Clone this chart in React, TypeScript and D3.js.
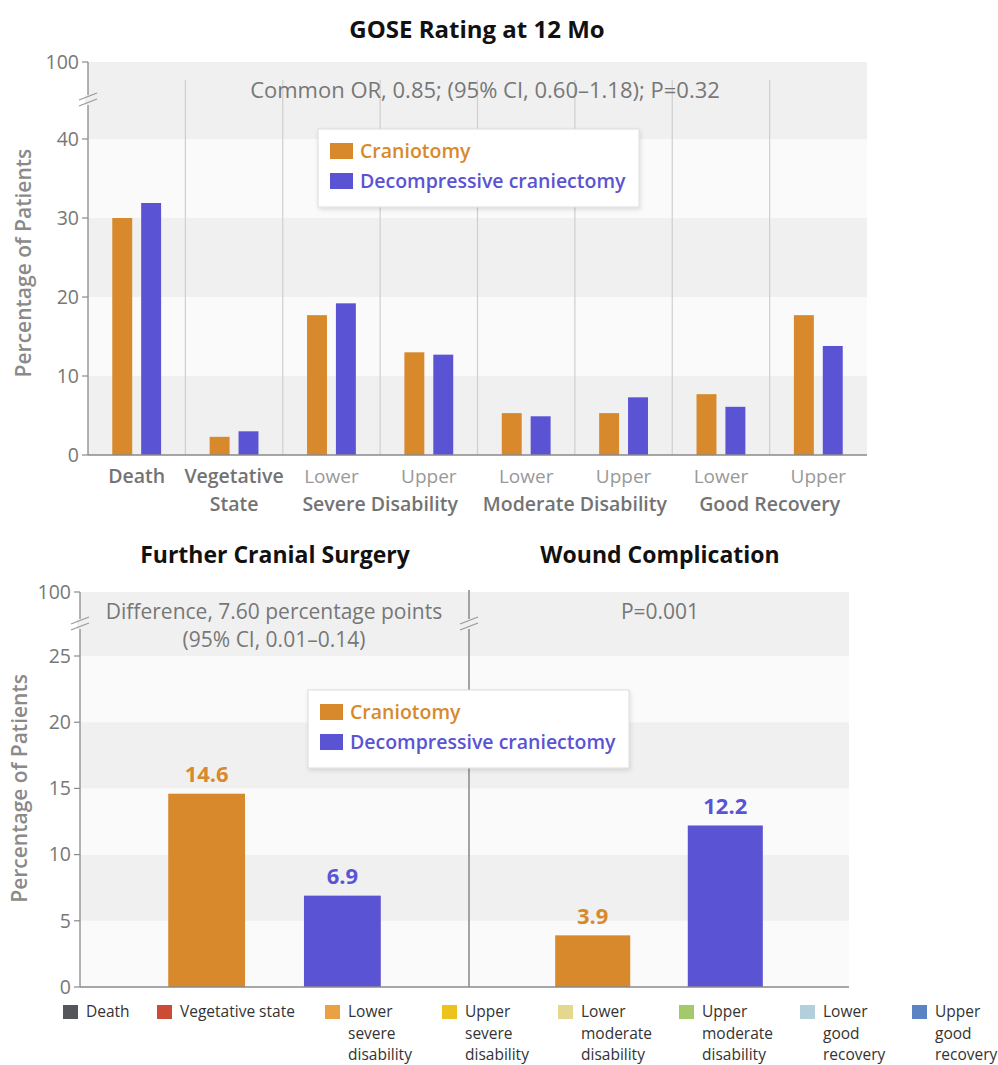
import * as d3 from 'd3';

// GOSE outcome categories and values (percent of patients)
const goseCategories = [
  'Death',
  'Vegetative State',
  'Lower Severe Disability',
  'Upper Severe Disability',
  'Lower Moderate Disability',
  'Upper Moderate Disability',
  'Lower Good Recovery',
  'Upper Good Recovery',
];
const craniotomyGose = [30.0, 2.3, 17.7, 13.0, 5.3, 5.3, 7.7, 17.7];
const craniectomyGose = [31.9, 3.0, 19.2, 12.7, 4.9, 7.3, 6.1, 13.8];
const goseTicks = [0, 10, 20, 30, 40, 100];

// secondary outcomes
const outcomes = ['Further Cranial Surgery', 'Wound Complication'];
const craniotomyOutcome = [14.6, 3.9];
const craniectomyOutcome = [6.9, 12.2];
const outcomeTicks = [0, 5, 10, 15, 20, 25, 100];
const outcomeNotes = [
  ['Difference, 7.60 percentage points', '(95% CI, 0.01–0.14)'],
  ['P=0.001'],
];

const groups = ['Craniotomy', 'Decompressive craniectomy'];
const colors = ['#d8892b', '#5a53d4'];

const gosLegend = [
  { label: ['Death'], color: '#55565b' },
  { label: ['Vegetative state'], color: '#cc4b37' },
  { label: ['Lower', 'severe', 'disability'], color: '#e9a142' },
  { label: ['Upper', 'severe', 'disability'], color: '#ecc21e' },
  { label: ['Lower', 'moderate', 'disability'], color: '#e4d78e' },
  { label: ['Upper', 'moderate', 'disability'], color: '#a3c96a' },
  { label: ['Lower', 'good', 'recovery'], color: '#b3cfdc' },
  { label: ['Upper', 'good', 'recovery'], color: '#5b84c5' },
];

const FONT = '"Open Sans", "DejaVu Sans", sans-serif';
const GREY_BAND = '#f0f0f0';
const LIGHT_BAND = '#fafafa';

const BreakMark = ({ x, y }: { x: number; y: number }) => (
  <g>
    <rect x={x - 3} y={y - 5} width={6} height={10} fill={GREY_BAND} />
    <line x1={x - 9} y1={y - 0} x2={x + 9} y2={y - 7} stroke="#999" strokeWidth={1.3} />
    <line x1={x - 9} y1={y + 6} x2={x + 9} y2={y - 1} stroke="#999" strokeWidth={1.3} />
  </g>
);

const Legend = ({ x, y }: { x: number; y: number }) => (
  <g transform={`translate(${x},${y})`}>
    <rect width={321} height={78} fill="#fff" stroke="#dcdcdc" filter="url(#shadow)" />
    {groups.map((g, i) => (
      <g key={g} transform={`translate(12,${14 + i * 30})`}>
        <rect width={23} height={16} fill={colors[i]} />
        <text x={30} y={8} dy="0.35em" fill={colors[i]} fontSize={19.5} fontWeight={600} fontFamily={FONT}>
          {g}
        </text>
      </g>
    ))}
  </g>
);

const TopChart = () => {
  const left = 88;
  const right = 867;
  const y = d3.scaleLinear().domain([0, 40, 100]).range([455, 139, 62]);
  const x0 = d3.scaleBand().domain(goseCategories).range([left, right]);
  const x1 = d3
    .scaleBand()
    .domain(groups)
    .range([0, x0.bandwidth()])
    .paddingInner(0.31)
    .paddingOuter(0.84);
  const bands = [
    [0, 10, GREY_BAND],
    [10, 20, LIGHT_BAND],
    [20, 30, GREY_BAND],
    [30, 40, LIGHT_BAND],
    [40, 100, GREY_BAND],
  ] as [number, number, string][];
  const values = [craniotomyGose, craniectomyGose];

  return (
    <g>
      <text x={477} y={30} dy="0.35em" textAnchor="middle" fontSize={24} fontWeight={700} fill="#111" fontFamily={FONT}>
        GOSE Rating at 12 Mo
      </text>
      {bands.map(([a, b, c]) => (
        <rect key={a} x={left} y={y(b)} width={right - left} height={y(a) - y(b)} fill={c} />
      ))}
      {goseCategories.slice(1).map((c) => (
        <line key={c} x1={x0(c)} x2={x0(c)} y1={80} y2={y(0)} stroke="#cfcfcf" strokeWidth={1.2} />
      ))}
      <text x={485} y={90} dy="0.35em" textAnchor="middle" fontSize={22} fill="#777" fontFamily={FONT}>
        Common OR, 0.85; (95% CI, 0.60–1.18); P=0.32
      </text>
      {values.map((vals, gi) =>
        goseCategories.map((c, i) => (
          <rect
            key={c + gi}
            x={(x0(c) ?? 0) + (x1(groups[gi]) ?? 0)}
            y={y(vals[i])}
            width={x1.bandwidth()}
            height={y(0) - y(vals[i])}
            fill={colors[gi]}
          />
        ))
      )}
      {/* axes */}
      <line x1={left} x2={left} y1={y(100)} y2={y(0)} stroke="#8a8a8a" strokeWidth={1.3} />
      <line x1={left} x2={right} y1={y(0)} y2={y(0)} stroke="#8a8a8a" strokeWidth={1.5} />
      {goseTicks.map((t) => (
        <g key={t}>
          <line x1={left - 6} x2={left} y1={y(t)} y2={y(t)} stroke="#8a8a8a" strokeWidth={1.2} />
          <text x={left - 9} y={y(t)} dy="0.35em" textAnchor="end" fontSize={19.5} fill="#777" fontFamily={FONT}>
            {t}
          </text>
        </g>
      ))}
      <BreakMark x={left} y={100} />
      <text
        transform={`translate(24,${y(24.3)}) rotate(-90)`}
        textAnchor="middle"
        dy="0.35em"
        fontSize={21}
        fontWeight={600}
        fill="#8a8a8a"
        fontFamily={FONT}
      >
        Percentage of Patients
      </text>
      {/* category labels */}
      {goseCategories.map((c, i) => {
        const cx = (x0(c) ?? 0) + x0.bandwidth() / 2;
        if (i < 2) {
          const parts = c.split(' ');
          return (
            <text key={c} x={cx} textAnchor="middle" fontSize={19.5} fontWeight={600} fill="#737373" fontFamily={FONT}>
              {parts.map((p, k) => (
                <tspan key={p} x={cx} y={476 + k * 28} dy="0.35em">
                  {p}
                </tspan>
              ))}
            </text>
          );
        }
        return (
          <text key={c} x={cx} y={476} dy="0.35em" textAnchor="middle" fontSize={19} fill="#999" fontFamily={FONT}>
            {c.split(' ')[0]}
          </text>
        );
      })}
      {[2, 4, 6].map((i) => (
        <text
          key={i}
          x={x0(goseCategories[i + 1])}
          y={504}
          dy="0.35em"
          textAnchor="middle"
          fontSize={19.5}
          fontWeight={600}
          fill="#737373"
          fontFamily={FONT}
        >
          {goseCategories[i].split(' ').slice(1).join(' ')}
        </text>
      ))}
      <Legend x={318} y={129} />
    </g>
  );
};

const BottomChart = () => {
  const left = 80;
  const right = 849;
  const mid = 469;
  const y = d3.scaleLinear().domain([0, 25, 100]).range([987, 656, 592]);
  const panels = [
    [left, mid],
    [mid, right],
  ];
  const bands = [
    [0, 5, LIGHT_BAND],
    [5, 10, GREY_BAND],
    [10, 15, LIGHT_BAND],
    [15, 20, GREY_BAND],
    [20, 25, LIGHT_BAND],
    [25, 100, GREY_BAND],
  ] as [number, number, string][];
  const values = outcomes.map((_, i) => [craniotomyOutcome[i], craniectomyOutcome[i]]);

  return (
    <g>
      {bands.map(([a, b, c]) => (
        <rect key={a} x={left} y={y(b)} width={right - left} height={y(a) - y(b)} fill={c} />
      ))}
      {outcomes.map((o, pi) => {
        const [a, b] = panels[pi];
        const x = d3.scaleBand().domain(groups).range([a, b]).paddingInner(0.434).paddingOuter(0.65);
        return (
          <g key={o}>
            <text x={pi === 0 ? 275 : 660} y={555} dy="0.35em" textAnchor="middle" fontSize={23} fontWeight={700} fill="#111" fontFamily={FONT}>
              {o}
            </text>
            {outcomeNotes[pi].map((n, k) => (
              <text
                key={n}
                x={pi === 0 ? 274 : 660}
                y={612 + k * 28}
                dy="0.35em"
                textAnchor="middle"
                fontSize={21}
                fill="#777"
                fontFamily={FONT}
              >
                {n}
              </text>
            ))}
            {groups.map((g, gi) => {
              const v = values[pi][gi];
              const bx = x(g) ?? 0;
              return (
                <g key={g}>
                  <rect x={bx} y={y(v)} width={x.bandwidth()} height={y(0) - y(v)} fill={colors[gi]} />
                  <text
                    x={bx + x.bandwidth() / 2}
                    y={y(v) - 19}
                    dy="0.35em"
                    textAnchor="middle"
                    fontSize={22}
                    fontWeight={700}
                    fill={colors[gi]}
                    fontFamily={FONT}
                  >
                    {v.toFixed(1)}
                  </text>
                </g>
              );
            })}
          </g>
        );
      })}
      {/* axes */}
      <line x1={left} x2={left} y1={y(100)} y2={y(0)} stroke="#8a8a8a" strokeWidth={1.3} />
      <line x1={mid} x2={mid} y1={y(100) - 2} y2={y(0)} stroke="#999" strokeWidth={1.8} />
      <line x1={left} x2={right} y1={y(0)} y2={y(0)} stroke="#8a8a8a" strokeWidth={1.5} />
      {outcomeTicks.map((t) => (
        <g key={t}>
          <line x1={left - 6} x2={left} y1={y(t)} y2={y(t)} stroke="#8a8a8a" strokeWidth={1.2} />
          <text x={left - 9} y={y(t)} dy="0.35em" textAnchor="end" fontSize={19.5} fill="#777" fontFamily={FONT}>
            {t}
          </text>
        </g>
      ))}
      <BreakMark x={left} y={624} />
      <BreakMark x={mid} y={624} />
      <text
        transform={`translate(20,${y(15)}) rotate(-90)`}
        textAnchor="middle"
        dy="0.35em"
        fontSize={21}
        fontWeight={600}
        fill="#8a8a8a"
        fontFamily={FONT}
      >
        Percentage of Patients
      </text>
      <Legend x={308} y={690} />
    </g>
  );
};

const GoseLegend = () => {
  const xs = [63, 157, 325, 442, 558, 679, 800, 912];
  return (
    <g>
      {gosLegend.map((item, i) => (
        <g key={item.label.join(' ')}>
          <rect x={xs[i]} y={1005} width={15} height={14} fill={item.color} />
          <text fontSize={15.5} fill="#333" fontFamily={FONT}>
            {item.label.map((l, k) => (
              <tspan key={l + k} x={xs[i] + 23} y={1012 + k * 21.5} dy="0.35em">
                {l}
              </tspan>
            ))}
          </text>
        </g>
      ))}
    </g>
  );
};

export default function App() {
  return (
    <svg
      width={998}
      height={1065}
      style={{ position: 'absolute', left: 0, top: 0, background: '#fff' }}
    >
      <defs>
        <filter id="shadow" x="-10%" y="-20%" width="130%" height="150%">
          <feDropShadow dx={1} dy={2} stdDeviation={2} floodColor="#000" floodOpacity={0.12} />
        </filter>
      </defs>
      <TopChart />
      <BottomChart />
      <GoseLegend />
    </svg>
  );
}
